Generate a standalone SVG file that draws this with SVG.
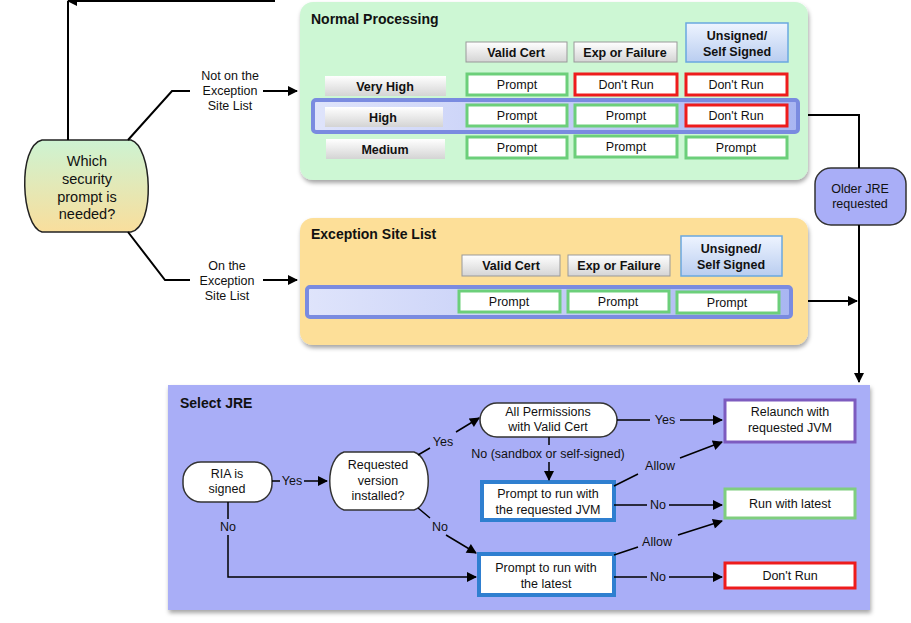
<svg xmlns="http://www.w3.org/2000/svg" width="911" height="623" viewBox="0 0 911 623">
<defs>
<marker id="ah2" viewBox="0 0 10 10" refX="9" refY="5" markerWidth="14" markerHeight="10" orient="auto" markerUnits="userSpaceOnUse"><path d="M0,0L10,5L0,10z" fill="#000"/></marker>
<linearGradient id="gw" x1="0" y1="0" x2="0" y2="1"><stop offset="0" stop-color="#cdf3d2"/><stop offset="1" stop-color="#f9de9c"/></linearGradient>
<linearGradient id="gh" x1="0" y1="0" x2="0" y2="1"><stop offset="0" stop-color="#fff"/><stop offset="1" stop-color="#d4d4d4"/></linearGradient>
<linearGradient id="gu" x1="0" y1="0" x2="0" y2="1"><stop offset="0" stop-color="#eef4ff"/><stop offset="1" stop-color="#b9cdf0"/></linearGradient>
<linearGradient id="gb" x1="0" y1="0" x2="1" y2="0"><stop offset="0" stop-color="#dfe4fb"/><stop offset="1" stop-color="#a9b6f2"/></linearGradient>
<filter id="sh" x="-5%" y="-5%" width="110%" height="115%"><feDropShadow dx="1" dy="3" stdDeviation="2" flood-opacity="0.35"/></filter>
</defs>
<style>
text{font-family:"Liberation Sans",Arial,sans-serif;font-size:12.5px;fill:#111;text-anchor:middle}
.b{font-weight:bold}
.t{font-weight:bold;font-size:14px;text-anchor:start}
.w{font-size:14.5px}
.hd{fill:url(#gh);stroke:#999;stroke-width:1}
.hu{fill:url(#gu);stroke:#6aa8e0;stroke-width:1.5}
.rl{fill:url(#gh);stroke:none}
.cg{fill:#fff;stroke:#6ccf7a;stroke-width:3}
.cr{fill:#fff;stroke:#ee1c1c;stroke-width:3}
.ln{fill:none;stroke:#000;stroke-width:2}
</style>
<rect width="911" height="623" fill="#fff"/>
<g id="normal">
<rect x="300" y="2" width="508" height="178" rx="13" fill="#cdf7d4" filter="url(#sh)"/>
<text class="t" x="311" y="24">Normal Processing</text>
<rect class="hd" x="466" y="42" width="101" height="20"/><text class="b" x="516" y="57">Valid Cert</text>
<rect class="hd" x="574" y="42" width="103" height="20"/><text class="b" x="625" y="57">Exp or Failure</text>
<rect class="hu" x="686" y="23" width="102" height="39"/><text class="b" x="737" y="40">Unsigned/</text><text class="b" x="737" y="56">Self Signed</text>
<rect class="rl" x="325" y="76" width="121" height="20"/><text class="b" x="385" y="91">Very High</text>
<rect x="313" y="100" width="485" height="32" rx="3" fill="url(#gb)" stroke="#7a8be0" stroke-width="4"/>
<rect class="rl" x="325" y="107" width="118" height="20"/><text class="b" x="383" y="122">High</text>
<rect class="rl" x="326" y="139" width="119" height="20"/><text class="b" x="385" y="154">Medium</text>
<rect class="cg" x="467" y="74" width="100" height="21"/><text x="517" y="89">Prompt</text>
<rect class="cr" x="575" y="74" width="102" height="21"/><text x="626" y="89">Don't Run</text>
<rect class="cr" x="686" y="74" width="101" height="21"/><text x="736" y="89">Don't Run</text>
<rect class="cg" x="467" y="105" width="100" height="21"/><text x="517" y="120">Prompt</text>
<rect class="cg" x="575" y="105" width="102" height="21"/><text x="626" y="120">Prompt</text>
<rect class="cr" x="686" y="105" width="101" height="21"/><text x="736" y="120">Don't Run</text>
<rect class="cg" x="467" y="137" width="100" height="21"/><text x="517" y="152">Prompt</text>
<rect class="cg" x="575" y="136" width="102" height="21"/><text x="626" y="151">Prompt</text>
<rect class="cg" x="686" y="137" width="101" height="21"/><text x="736" y="152">Prompt</text>
</g>
<g id="esl">
<rect x="300" y="218" width="508" height="127" rx="13" fill="#fddf98" filter="url(#sh)"/>
<text class="t" x="311" y="239">Exception Site List</text>
<rect class="hd" x="462" y="255" width="98" height="21"/><text class="b" x="511" y="270">Valid Cert</text>
<rect class="hd" x="568" y="255" width="102" height="21"/><text class="b" x="619" y="270">Exp or Failure</text>
<rect class="hu" x="681" y="236" width="101" height="40"/><text class="b" x="731" y="253">Unsigned/</text><text class="b" x="731" y="269">Self Signed</text>
<rect x="307" y="287" width="484" height="30" rx="3" fill="url(#gb)" stroke="#7a8be0" stroke-width="4"/>
<rect class="cg" x="459" y="291" width="101" height="21"/><text x="509" y="306">Prompt</text>
<rect class="cg" x="568" y="291" width="101" height="21"/><text x="618" y="306">Prompt</text>
<rect class="cg" x="677" y="292" width="102" height="21"/><text x="727" y="307">Prompt</text>
</g>
<g id="which">
<path d="M42,140 H131 C152,146 156,226 131,232 H42 C21,226 17,146 42,140 Z" fill="url(#gw)" stroke="#222" stroke-width="1.5"/>
<text class="w" x="87" y="166">Which</text><text class="w" x="87" y="184">security</text><text class="w" x="87" y="202">prompt is</text><text class="w" x="87" y="219">needed?</text>
</g>
<g id="older">
<rect x="815" y="168" width="91" height="57" rx="16" fill="#a9aef7" stroke="#333" stroke-width="1.5"/>
<text x="860" y="193">Older JRE</text><text x="860" y="208">requested</text>
</g>
<g id="selectjre">
<rect x="168" y="385" width="702" height="225" fill="#a9aef7" filter="url(#sh)"/>
<text class="t" x="180" y="408">Select JRE</text>
</g>
<g id="ria"><rect x="183" y="462" width="89" height="40" rx="18" fill="#fff" stroke="#333" stroke-width="1.5"/><text x="227" y="478">RIA is</text><text x="227" y="493">signed</text></g>
<g id="req"><path d="M344,452 H414 C433,458 433,504 414,510 H344 C325,504 325,458 344,452 Z" fill="#fff" stroke="#333" stroke-width="1.5"/><text x="378" y="469">Requested</text><text x="378" y="485">version</text><text x="378" y="500">installed?</text></g>
<g id="allperm"><rect x="480" y="403" width="137" height="34" rx="17" fill="#fff" stroke="#333" stroke-width="1.5"/><text x="548" y="416">All Permissions</text><text x="548" y="431">with Valid Cert</text></g>
<g id="relaunch"><rect x="725" y="400" width="130" height="42" fill="#fff" stroke="#7d5bbf" stroke-width="3"/><text x="790" y="416">Relaunch with</text><text x="790" y="432">requested JVM</text></g>
<g id="promptreq"><rect x="482" y="482" width="132" height="38" fill="#fff" stroke="#2f7fd0" stroke-width="4"/><text x="548" y="498">Prompt to run with</text><text x="548" y="514">the requested JVM</text></g>
<g id="runlatest"><rect x="725" y="489" width="130" height="29" fill="#fff" stroke="#7fce7f" stroke-width="3"/><text x="790" y="508">Run with latest</text></g>
<g id="promptlatest"><rect x="479" y="554" width="135" height="41" fill="#fff" stroke="#2f7fd0" stroke-width="4"/><text x="546" y="572">Prompt to run with</text><text x="546" y="588">the latest</text></g>
<g id="dontrun"><rect x="725" y="563" width="130" height="25" fill="#fff" stroke="#ee1c1c" stroke-width="3"/><text x="790" y="580">Don't Run</text></g>
<g id="connectors">
<path class="ln" d="M68,140 V1"/>
<path class="ln" d="M275,1 H68" marker-end="url(#ah2)"/>
<path class="ln" d="M128,140 L172,91 H190"/>
<text x="230" y="80">Not on the</text><text x="230" y="95">Exception</text><text x="230" y="110">Site List</text>
<path class="ln" d="M263,91 H297" marker-end="url(#ah2)"/>
<path class="ln" d="M128,232 L165,280 H190"/>
<text x="227" y="270">On the</text><text x="227" y="285">Exception</text><text x="227" y="300">Site List</text>
<path class="ln" d="M263,280 H297" marker-end="url(#ah2)"/>
<path class="ln" d="M808,115 H859 V168"/>
<path class="ln" d="M859,225 V382" marker-end="url(#ah2)"/>
<path class="ln" d="M808,301 H857" marker-end="url(#ah2)"/>
<g stroke="#000" stroke-width="1.5" fill="none">
<path d="M272,481 H280 M304,481 H327" marker-end="url(#ah2)"/>
<path d="M418,455 L430,448 M456,432 L479,418" marker-end="url(#ah2)"/>
<path d="M617,420 H650 M680,420 H722" marker-end="url(#ah2)"/>
<path d="M549,437 V445 M549,462 V480" marker-end="url(#ah2)"/>
<path d="M614,486 L638,474 M680,458 L722,442" marker-end="url(#ah2)"/>
<path d="M614,505 H647 M669,505 H722" marker-end="url(#ah2)"/>
<path d="M418,508 L430,518 M446,535 L476,553" marker-end="url(#ah2)"/>
<path d="M228,502 V519 M228,535 V577 H476" marker-end="url(#ah2)"/>
<path d="M614,555 L638,547 M678,535 L722,521" marker-end="url(#ah2)"/>
<path d="M614,577 H647 M669,577 H722" marker-end="url(#ah2)"/>
</g>
<text x="292" y="485">Yes</text>
<text x="443" y="446">Yes</text>
<text x="665" y="424">Yes</text>
<text x="548" y="458">No (sandbox or self-signed)</text>
<text x="660" y="470">Allow</text>
<text x="658" y="509">No</text>
<text x="440" y="531">No</text>
<text x="228" y="531">No</text>
<text x="657" y="546">Allow</text>
<text x="658" y="581">No</text>
</g>
</svg>
